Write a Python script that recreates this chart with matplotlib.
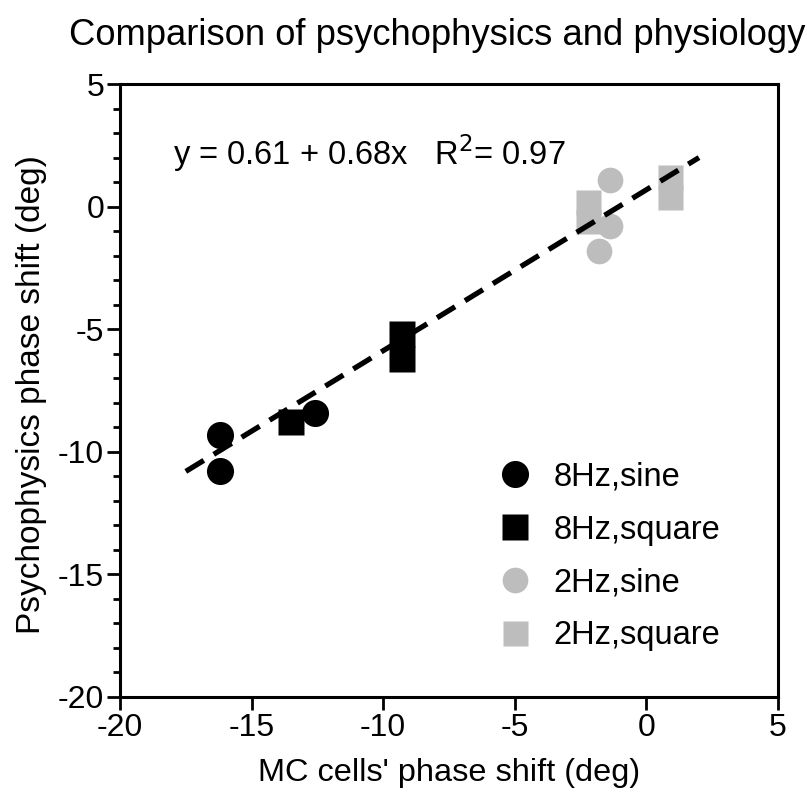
import numpy as np
import matplotlib.pyplot as plt
from matplotlib.ticker import MultipleLocator

plt.rcParams['font.family'] = ['Liberation Sans', 'DejaVu Sans']
plt.rcParams['axes.unicode_minus'] = False

# data (deg)
sine8_x = [-16.2, -16.2, -12.6]
sine8_y = [-9.3, -10.8, -8.4]
square8_x = [-13.5, -9.3, -9.3]
square8_y = [-8.8, -5.2, -6.2]
sine2_x = [-1.4, -1.4, -1.8]
sine2_y = [1.1, -0.8, -1.8]
square2_x = [-2.2, -2.2, 0.9, 0.9]
square2_y = [0.2, -0.6, 1.2, 0.4]
fit_x = [-17.5, 2.0]
fit_y = [-10.8, 2.0]

gray = '#bdbdbd'

fig = plt.figure(figsize=(8.07, 7.98), dpi=100)
ax = fig.add_axes([0.1487, 0.1266, 0.8153, 0.7681])

ax.plot(fit_x, fit_y, color='black', lw=3.8, dashes=(4, 2.2), zorder=3)
ax.plot(sine8_x, sine8_y, 'o', ms=19.5, color='black', mec='none', label='8Hz,sine', zorder=2)
ax.plot(square8_x, square8_y, 's', ms=19, color='black', mec='none', label='8Hz,square', zorder=2)
ax.plot(sine2_x, sine2_y, 'o', ms=18.5, color=gray, mec='none', label='2Hz,sine', zorder=2)
ax.plot(square2_x, square2_y, 's', ms=18, color=gray, mec='none', label='2Hz,square', zorder=2)

ax.set_xlim(-20, 5)
ax.set_ylim(-20, 5)
ax.xaxis.set_major_locator(MultipleLocator(5))
ax.yaxis.set_major_locator(MultipleLocator(5))
ax.yaxis.set_minor_locator(MultipleLocator(1))
ax.tick_params(which='major', direction='out', length=9.5, width=2, labelsize=23, pad=2)
ax.tick_params(which='minor', direction='out', length=5, width=2)
ax.tick_params(axis='x', which='minor', bottom=False)
for s in ax.spines.values():
    s.set_linewidth(2.2)

ax.text(-18.0, 2.2, 'y = 0.61 + 0.68x   R$^2$= 0.97', fontsize=23.5, va='center', ha='left')

ax.legend(loc='upper left', bbox_to_anchor=(0.555, 0.405), frameon=False,
          fontsize=23.5, handletextpad=0.69, labelspacing=0.67, handlelength=1.0,
          borderaxespad=0)

ax.set_xlabel("MC cells' phase shift (deg)", fontsize=23.4)
ax.set_ylabel('Psychophysics phase shift (deg)', fontsize=24)
ax.xaxis.set_label_coords(0.5, -0.1)
ax.yaxis.set_label_coords(-0.111, 0.494)
fig.text(0.5415, 0.955, 'Comparison of psychophysics and physiology', fontsize=26.2,
         ha='center', va='center')

fig.savefig('out.png', dpi=100)
